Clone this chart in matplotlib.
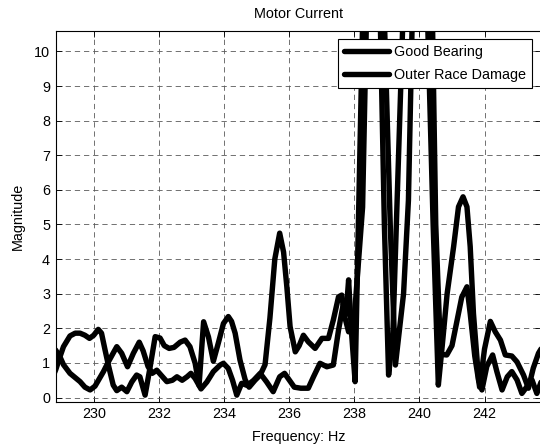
import matplotlib
matplotlib.use("Agg")
import matplotlib.pyplot as plt

# Spectrum of the motor current around the 240 Hz region
freq_good = [228.70, 228.81, 228.95, 229.05, 229.25, 229.41, 229.56, 229.71, 229.85, 229.98,
             230.12, 230.22, 230.33, 230.43, 230.58, 230.69, 230.84, 231.00, 231.15, 231.30,
             231.40, 231.56, 231.70, 231.87, 232.02, 232.15, 232.30, 232.45, 232.64, 232.79,
             232.94, 233.10, 233.22, 233.36, 233.51, 233.66, 233.82, 233.97, 234.12, 234.22,
             234.33, 234.48, 234.64, 234.76, 234.94, 235.10, 235.25, 235.40, 235.55, 235.70,
             235.82, 235.92, 236.02, 236.18, 236.30, 236.43, 236.58, 236.79, 237.00, 237.20,
             237.35, 237.51, 237.61, 237.71, 237.82, 237.97, 238.25, 238.60, 239.10, 239.26,
             239.51, 239.66, 240.13, 240.50, 240.65, 240.84, 241.00, 241.15, 241.30, 241.46,
             241.56, 241.70, 241.85, 242.00, 242.18, 242.33, 242.49, 242.64, 242.84, 243.00,
             243.20, 243.35, 243.50, 243.66, 243.80]
mag_good = [0.55, 0.80, 1.20, 1.47, 1.78, 1.86, 1.86, 1.80, 1.71, 1.80,
            1.97, 1.86, 1.37, 0.94, 0.36, 0.20, 0.30, 0.17, 0.45, 0.65,
            0.60, 0.07, 0.80, 1.76, 1.72, 1.50, 1.42, 1.45, 1.60, 1.66,
            1.47, 0.99, 0.35, 2.19, 1.75, 1.05, 1.60, 2.14, 2.34, 2.20,
            1.86, 1.08, 0.51, 0.30, 0.50, 0.65, 0.95, 2.30, 4.00, 4.75,
            4.20, 3.20, 2.05, 1.32, 1.50, 1.80, 1.61, 1.42, 1.71, 1.71,
            2.24, 2.91, 2.96, 2.30, 1.90, 2.00, 5.50, 21.5, 5.00, 0.94,
            3.00, 5.70, 26.6, 5.00, 1.25, 1.23, 1.50, 2.20, 2.90, 3.20,
            2.43, 1.20, 0.30, 1.40, 2.20, 1.90, 1.66, 1.23, 1.20, 1.03,
            0.65, 0.27, 0.85, 1.28, 1.50]

freq_outer = [228.70, 228.81, 228.94, 229.05, 229.25, 229.56, 229.71, 229.87, 230.02, 230.28,
              230.43, 230.60, 230.69, 230.84, 231.02, 231.20, 231.38, 231.50, 231.65, 231.78,
              231.92, 232.05, 232.23, 232.40, 232.54, 232.70, 232.85, 232.97, 233.10, 233.28,
              233.46, 233.66, 233.87, 233.97, 234.12, 234.25, 234.38, 234.53, 234.70, 234.90,
              235.10, 235.30, 235.50, 235.70, 235.85, 236.00, 236.15, 236.35, 236.58, 236.74,
              236.94, 237.15, 237.35, 237.51, 237.66, 237.74, 237.82, 237.90, 238.02, 238.12,
              238.53, 238.92, 239.05, 239.18, 239.90, 240.42, 240.58, 240.70, 240.85, 241.05,
              241.20, 241.34, 241.46, 241.56, 241.66, 241.82, 241.92, 242.07, 242.25, 242.38,
              242.54, 242.70, 242.84, 243.00, 243.15, 243.30, 243.46, 243.61, 243.80]
mag_outer = [1.45, 1.37, 1.18, 0.95, 0.70, 0.46, 0.30, 0.22, 0.33, 0.75,
             1.03, 1.32, 1.47, 1.28, 0.89, 1.28, 1.60, 1.35, 0.90, 0.70,
             0.79, 0.65, 0.46, 0.50, 0.60, 0.50, 0.60, 0.70, 0.55, 0.25,
             0.45, 0.75, 0.94, 0.99, 0.84, 0.50, 0.07, 0.41, 0.35, 0.50,
             0.70, 0.45, 0.17, 0.60, 0.70, 0.50, 0.30, 0.27, 0.27, 0.60,
             0.99, 0.89, 0.94, 1.95, 2.72, 2.40, 3.40, 2.00, 0.46, 5.00,
             23.3, 5.00, 0.65, 1.80, 23.0, 5.00, 0.36, 1.50, 3.00, 4.36,
             5.51, 5.80, 5.51, 4.36, 2.43, 0.51, 0.22, 0.90, 1.23, 0.75,
             0.22, 0.60, 0.75, 0.51, 0.12, 0.31, 0.51, 0.12, 0.60]

x_ticks = [230, 232, 234, 236, 238, 240, 242]
y_ticks = [0, 1, 2, 3, 4, 5, 6, 7, 8, 9, 10]

plt.rcParams['font.family'] = ['Liberation Sans', 'DejaVu Sans']
plt.rcParams['lines.scale_dashes'] = False
FS = 10.4

fig = plt.figure(figsize=(5.4, 4.46), dpi=100)
ax = fig.add_axes([0.1031, 0.0993, 0.8989, 0.8312])

line_kw = dict(color='black', linewidth=3.9, solid_joinstyle='round', solid_capstyle='round')
ax.plot(freq_good, mag_good, label='Good Bearing', **line_kw)
ax.plot(freq_outer, mag_outer, label='Outer Race Damage', **line_kw)

ax.set_xlim(228.81, 243.74)
ax.set_ylim(-0.12, 10.59)
ax.set_xticks(x_ticks)
ax.set_yticks(y_ticks)
ax.tick_params(direction='in', top=True, right=True, length=4, width=0.6,
               labelsize=FS, pad=4)
ax.grid(True, color='0.35', linewidth=0.6, linestyle=(0, (3.8, 2.8)))
for s in ax.spines.values():
    s.set_linewidth(0.8)

ax.set_title('Motor Current', fontsize=FS, pad=9.5)
ax.set_xlabel('Frequency: Hz', fontsize=FS, labelpad=6.5)
ax.set_ylabel('Magnitude', fontsize=FS, labelpad=7)

leg = ax.legend(loc='upper right', bbox_to_anchor=(532 / 540, (446 - 39) / 446),
                bbox_transform=fig.transFigure, fancybox=False, framealpha=1,
                edgecolor='black', borderaxespad=0, handlelength=3.1,
                handletextpad=0.35, fontsize=FS, labelspacing=0.62, borderpad=0.42)
leg.get_frame().set_linewidth(0.8)

fig.savefig('out.png', dpi=100)
